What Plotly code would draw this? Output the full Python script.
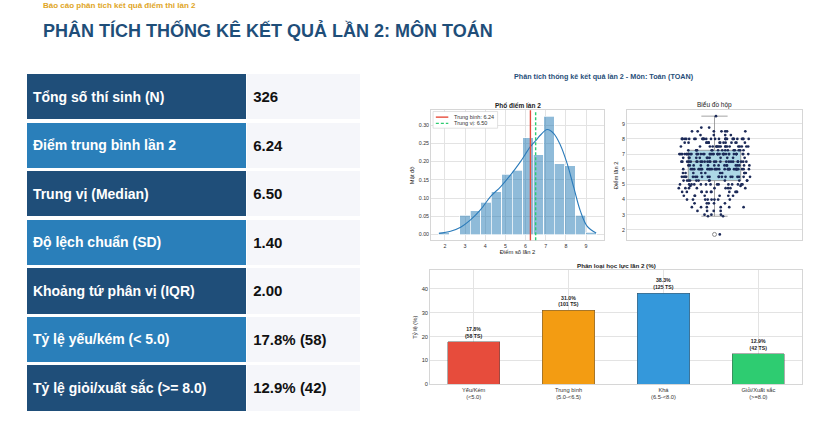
import numpy as np
import plotly.graph_objects as go

W, H = 820, 436
FONT = "Arial, Liberation Sans, sans-serif"

# summary table on the left
stat_labels = [
    "Tổng số thí sinh (N)",
    "Điểm trung bình lần 2",
    "Trung vị (Median)",
    "Độ lệch chuẩn (SD)",
    "Khoảng tứ phân vị (IQR)",
    "Tỷ lệ yếu/kém (&lt; 5.0)",
    "Tỷ lệ giỏi/xuất sắc (&gt;= 8.0)",
]
stat_values = ["326", "6.24", "6.50", "1.40", "2.00", "17.8% (58)", "12.9% (42)"]

score_values = [1.7, 2.9, 3.0, 3.25, 3.5, 3.75, 4.0, 4.25, 4.5, 4.75, 4.9, 5.0, 5.25,
                5.5, 5.75, 6.0, 6.25, 6.5, 6.75, 7.0, 7.25, 7.5, 7.75, 8.0, 8.25,
                8.5, 8.75, 9.5]
score_counts = [1, 2, 3, 4, 6, 5, 8, 7, 11, 9, 2, 14, 12,
                20, 10, 30, 15, 25, 12, 40, 15, 18, 15, 28, 4,
                7, 2, 1]

# kde curve
kde_x = [1.7, 2.28, 2.78, 3.27, 3.77, 4.26, 4.76, 5.25, 5.75, 6.24, 6.57, 6.74,
         7.07, 7.4, 7.73, 8.06, 8.4, 8.72, 9.05, 9.5]
kde_y = [0.003, 0.009, 0.02, 0.04, 0.068, 0.104, 0.131, 0.163, 0.2, 0.241, 0.262, 0.273,
         0.288, 0.277, 0.245, 0.195, 0.127, 0.064, 0.023, 0.004]

# classification bars
cat_labels = ["Yếu/Kém<br>(&lt;5.0)", "Trung bình<br>(5.0-&lt;6.5)",
              "Khá<br>(6.5-&lt;8.0)", "Giỏi/Xuất sắc<br>(&gt;=8.0)"]
cat_pct = [17.8, 31.0, 38.3, 12.9]
cat_counts = [58, 101, 125, 42]
cat_colors = ["#e74c3c", "#f39c12", "#3498db", "#2ecc71"]

scores = np.repeat(score_values, score_counts)
n = len(scores)
mean_score = scores.mean()
median_score = float(np.median(scores))
counts, edges = np.histogram(scores, bins=15, range=(min(score_values), max(score_values)))
bw = np.diff(edges)
centers = edges[:-1] + bw / 2
density = counts / (n * bw)


def px_x(p):
    return p / W


def px_y(p):
    return 1 - p / H


fig = go.Figure()

# ---- table drawn as stacked horizontal bars ----
LABEL_W, VALUE_W = 220, 114
rows = list(range(len(stat_labels)))
label_fill = ["#1f4e79" if i % 2 == 0 else "#2a7fba" for i in rows]
fig.add_trace(go.Bar(
    orientation="h", y=rows, x=[LABEL_W] * len(rows), width=0.955,
    marker=dict(color=label_fill, line=dict(color="white", width=1)),
    text=["\u00a0<b>" + s + "</b>" for s in stat_labels],
    textposition="inside", insidetextanchor="start", constraintext="none",
    textfont=dict(family=FONT, size=14, color="white"),
    xaxis="x4", yaxis="y4", showlegend=False, hoverinfo="skip",
))
fig.add_trace(go.Bar(
    orientation="h", y=rows, x=[VALUE_W] * len(rows), width=0.955,
    marker=dict(color="#f5f6fa", line=dict(color="white", width=1)),
    text=["\u00a0<b>" + s + "</b>" for s in stat_values],
    textposition="inside", insidetextanchor="start", constraintext="none",
    textfont=dict(family=FONT, size=15, color="#111111"),
    xaxis="x4", yaxis="y4", showlegend=False, hoverinfo="skip",
))

# ---- histogram + kde ----
fig.add_trace(go.Bar(
    x=centers, y=density, width=bw,
    marker=dict(color="rgba(31,119,180,0.5)", line=dict(color="white", width=0.7)),
    xaxis="x", yaxis="y", showlegend=False, hoverinfo="skip",
))
fig.add_trace(go.Scatter(
    x=kde_x, y=kde_y, mode="lines", line=dict(color="#2b7bba", width=1.1, shape="spline"),
    xaxis="x", yaxis="y", showlegend=False, hoverinfo="skip",
))

# ---- box + strip ----
fig.add_trace(go.Box(
    y=scores, x0=0, width=0.3, boxpoints="outliers", whiskerwidth=0.5,
    fillcolor="#add8e6", line=dict(color="#8c8c8c", width=0.8),
    marker=dict(symbol="circle-open", color="#8c8c8c", size=4),
    xaxis="x2", yaxis="y2", showlegend=False, hoverinfo="skip",
))
fig.add_trace(go.Box(
    y=scores, x0=0, width=0.42, boxpoints="all", jitter=1, pointpos=0,
    fillcolor="rgba(0,0,0,0)", line=dict(color="rgba(0,0,0,0)", width=0),
    marker=dict(color="#1c2a58", size=2.7),
    xaxis="x2", yaxis="y2", showlegend=False, hoverinfo="skip",
))

# ---- classification bars ----
fig.add_trace(go.Bar(
    x=cat_labels, y=cat_pct, width=0.55,
    marker=dict(color=cat_colors, line=dict(color="rgba(70,70,70,0.55)", width=0.8)),
    text=[f"<b>{p:.1f}%<br>({c} TS)</b>" for p, c in zip(cat_pct, cat_counts)],
    textposition="outside", cliponaxis=False,
    textfont=dict(family=FONT, size=5.2, color="#222222"),
    xaxis="x3", yaxis="y3", showlegend=False, hoverinfo="skip",
))

grid = "#e3e3e3"
frame = "#d6d6d6"
tick_font = dict(family=FONT, size=5.3, color="#333333")
lab_font = dict(family=FONT, size=5.8, color="#222222")


def ax(**kw):
    base = dict(showgrid=True, gridcolor=grid, gridwidth=0.7, zeroline=False,
                showline=True, mirror=True, linecolor=frame, linewidth=0.8,
                ticks="", tickfont=tick_font)
    base.update(kw)
    return base


# mean / median lines and a small legend box inside the histogram panel
hist_shapes = [
    dict(type="line", xref="x", yref="y domain", x0=mean_score, x1=mean_score,
         y0=0, y1=1, line=dict(color="#e74c3c", width=1.4)),
    dict(type="line", xref="x", yref="y domain", x0=median_score, x1=median_score,
         y0=0, y1=1, line=dict(color="#2ecc71", width=1.4, dash="3px,2px")),
    dict(type="rect", xref="x domain", yref="y domain", x0=0.012, x1=0.385,
         y0=0.862, y1=0.99, fillcolor="white", line=dict(color="#cccccc", width=0.6)),
    dict(type="line", xref="x domain", yref="y domain", x0=0.028, x1=0.1,
         y0=0.947, y1=0.947, line=dict(color="#e74c3c", width=1.4)),
    dict(type="line", xref="x domain", yref="y domain", x0=0.028, x1=0.1,
         y0=0.899, y1=0.899, line=dict(color="#2ecc71", width=1.4, dash="3px,2px")),
]

fig.update_layout(
    width=W, height=H, margin=dict(l=0, r=0, t=0, b=0),
    paper_bgcolor="white", plot_bgcolor="white",
    barmode="stack", boxmode="overlay", showlegend=False,
    font=dict(family=FONT),
    xaxis=ax(domain=[px_x(431), px_x(604)], anchor="y", range=[1.31, 9.89], dtick=1,
             title=dict(text="Điểm số lần 2", font=lab_font, standoff=2)),
    yaxis=ax(domain=[px_y(242), px_y(111)], anchor="x", range=[-0.016, 0.341], dtick=0.05,
             tickformat=".2f", title=dict(text="Mật độ", font=lab_font, standoff=3)),
    xaxis2=ax(domain=[px_x(627), px_x(802)], anchor="y2", range=[-0.5, 0.5],
              showgrid=False, showticklabels=False),
    yaxis2=ax(domain=[px_y(242), px_y(111)], anchor="x2", range=[1.31, 9.89], dtick=1,
              title=dict(text="Điểm lần 2", font=lab_font, standoff=3)),
    xaxis3=ax(domain=[px_x(430), px_x(802)], anchor="y3", range=[-0.46, 3.46],
              type="category", tickfont=dict(family=FONT, size=5.7, color="#333333")),
    yaxis3=ax(domain=[px_y(387), px_y(272)], anchor="x3", range=[0, 47.9], dtick=10,
              tickfont=dict(family=FONT, size=5.7, color="#333333"),
              title=dict(text="Tỷ lệ (%)", font=lab_font, standoff=3)),
    xaxis4=dict(domain=[px_x(26), px_x(360)], anchor="y4", range=[0, LABEL_W + VALUE_W],
                visible=False, fixedrange=True),
    yaxis4=dict(domain=[px_y(415), px_y(73)], anchor="x4",
                range=[len(rows) - 0.5, -0.5], visible=False, fixedrange=True),
    shapes=hist_shapes,
)

ann = [
    dict(text="<b>Báo cáo phân tích kết quả điểm thi lần 2</b>", x=px_x(41), y=px_y(6),
         font=dict(size=8, color="#e0a526")),
    dict(text="<b>PHÂN TÍCH THỐNG KÊ KẾT QUẢ LẦN 2: MÔN TOÁN</b>", x=px_x(41), y=px_y(31),
         font=dict(size=18, color="#1f4e79")),
    dict(text="<b>Phân tích thống kê kết quả lần 2 - Môn: Toán (TOAN)</b>", x=px_x(604),
         y=px_y(77), xanchor="center", font=dict(size=7.2, color="#1f4e79")),
    dict(text="<b>Phổ điểm lần 2</b>", x=px_x(517.5), y=px_y(106), xanchor="center",
         font=dict(size=6.5, color="#222222")),
    dict(text="Biểu đồ hộp", x=px_x(714.5), y=px_y(105), xanchor="center",
         font=dict(size=6.5, color="#222222")),
    dict(text="<b>Phân loại học lực lần 2 (%)</b>", x=px_x(616), y=px_y(267),
         xanchor="center", font=dict(size=6.2, color="#222222")),
]
for a in ann:
    a.setdefault("xanchor", "left")
    a.update(xref="paper", yref="paper", yanchor="middle", showarrow=False)
    a["font"]["family"] = FONT
    fig.add_annotation(**a)

# legend labels next to the sample lines
for txt, yy in [(f"Trung bình: {mean_score:.2f}", 0.947), (f"Trung vị: {median_score:.2f}", 0.899)]:
    fig.add_annotation(text=txt, xref="x domain", yref="y domain", x=0.12, y=yy,
                       xanchor="left", yanchor="middle", showarrow=False,
                       font=dict(family=FONT, size=5.5, color="#333333"))

fig.write_html("out.html", config={"displayModeBar": False},
               post_script="document.body.style.margin='0px';")
